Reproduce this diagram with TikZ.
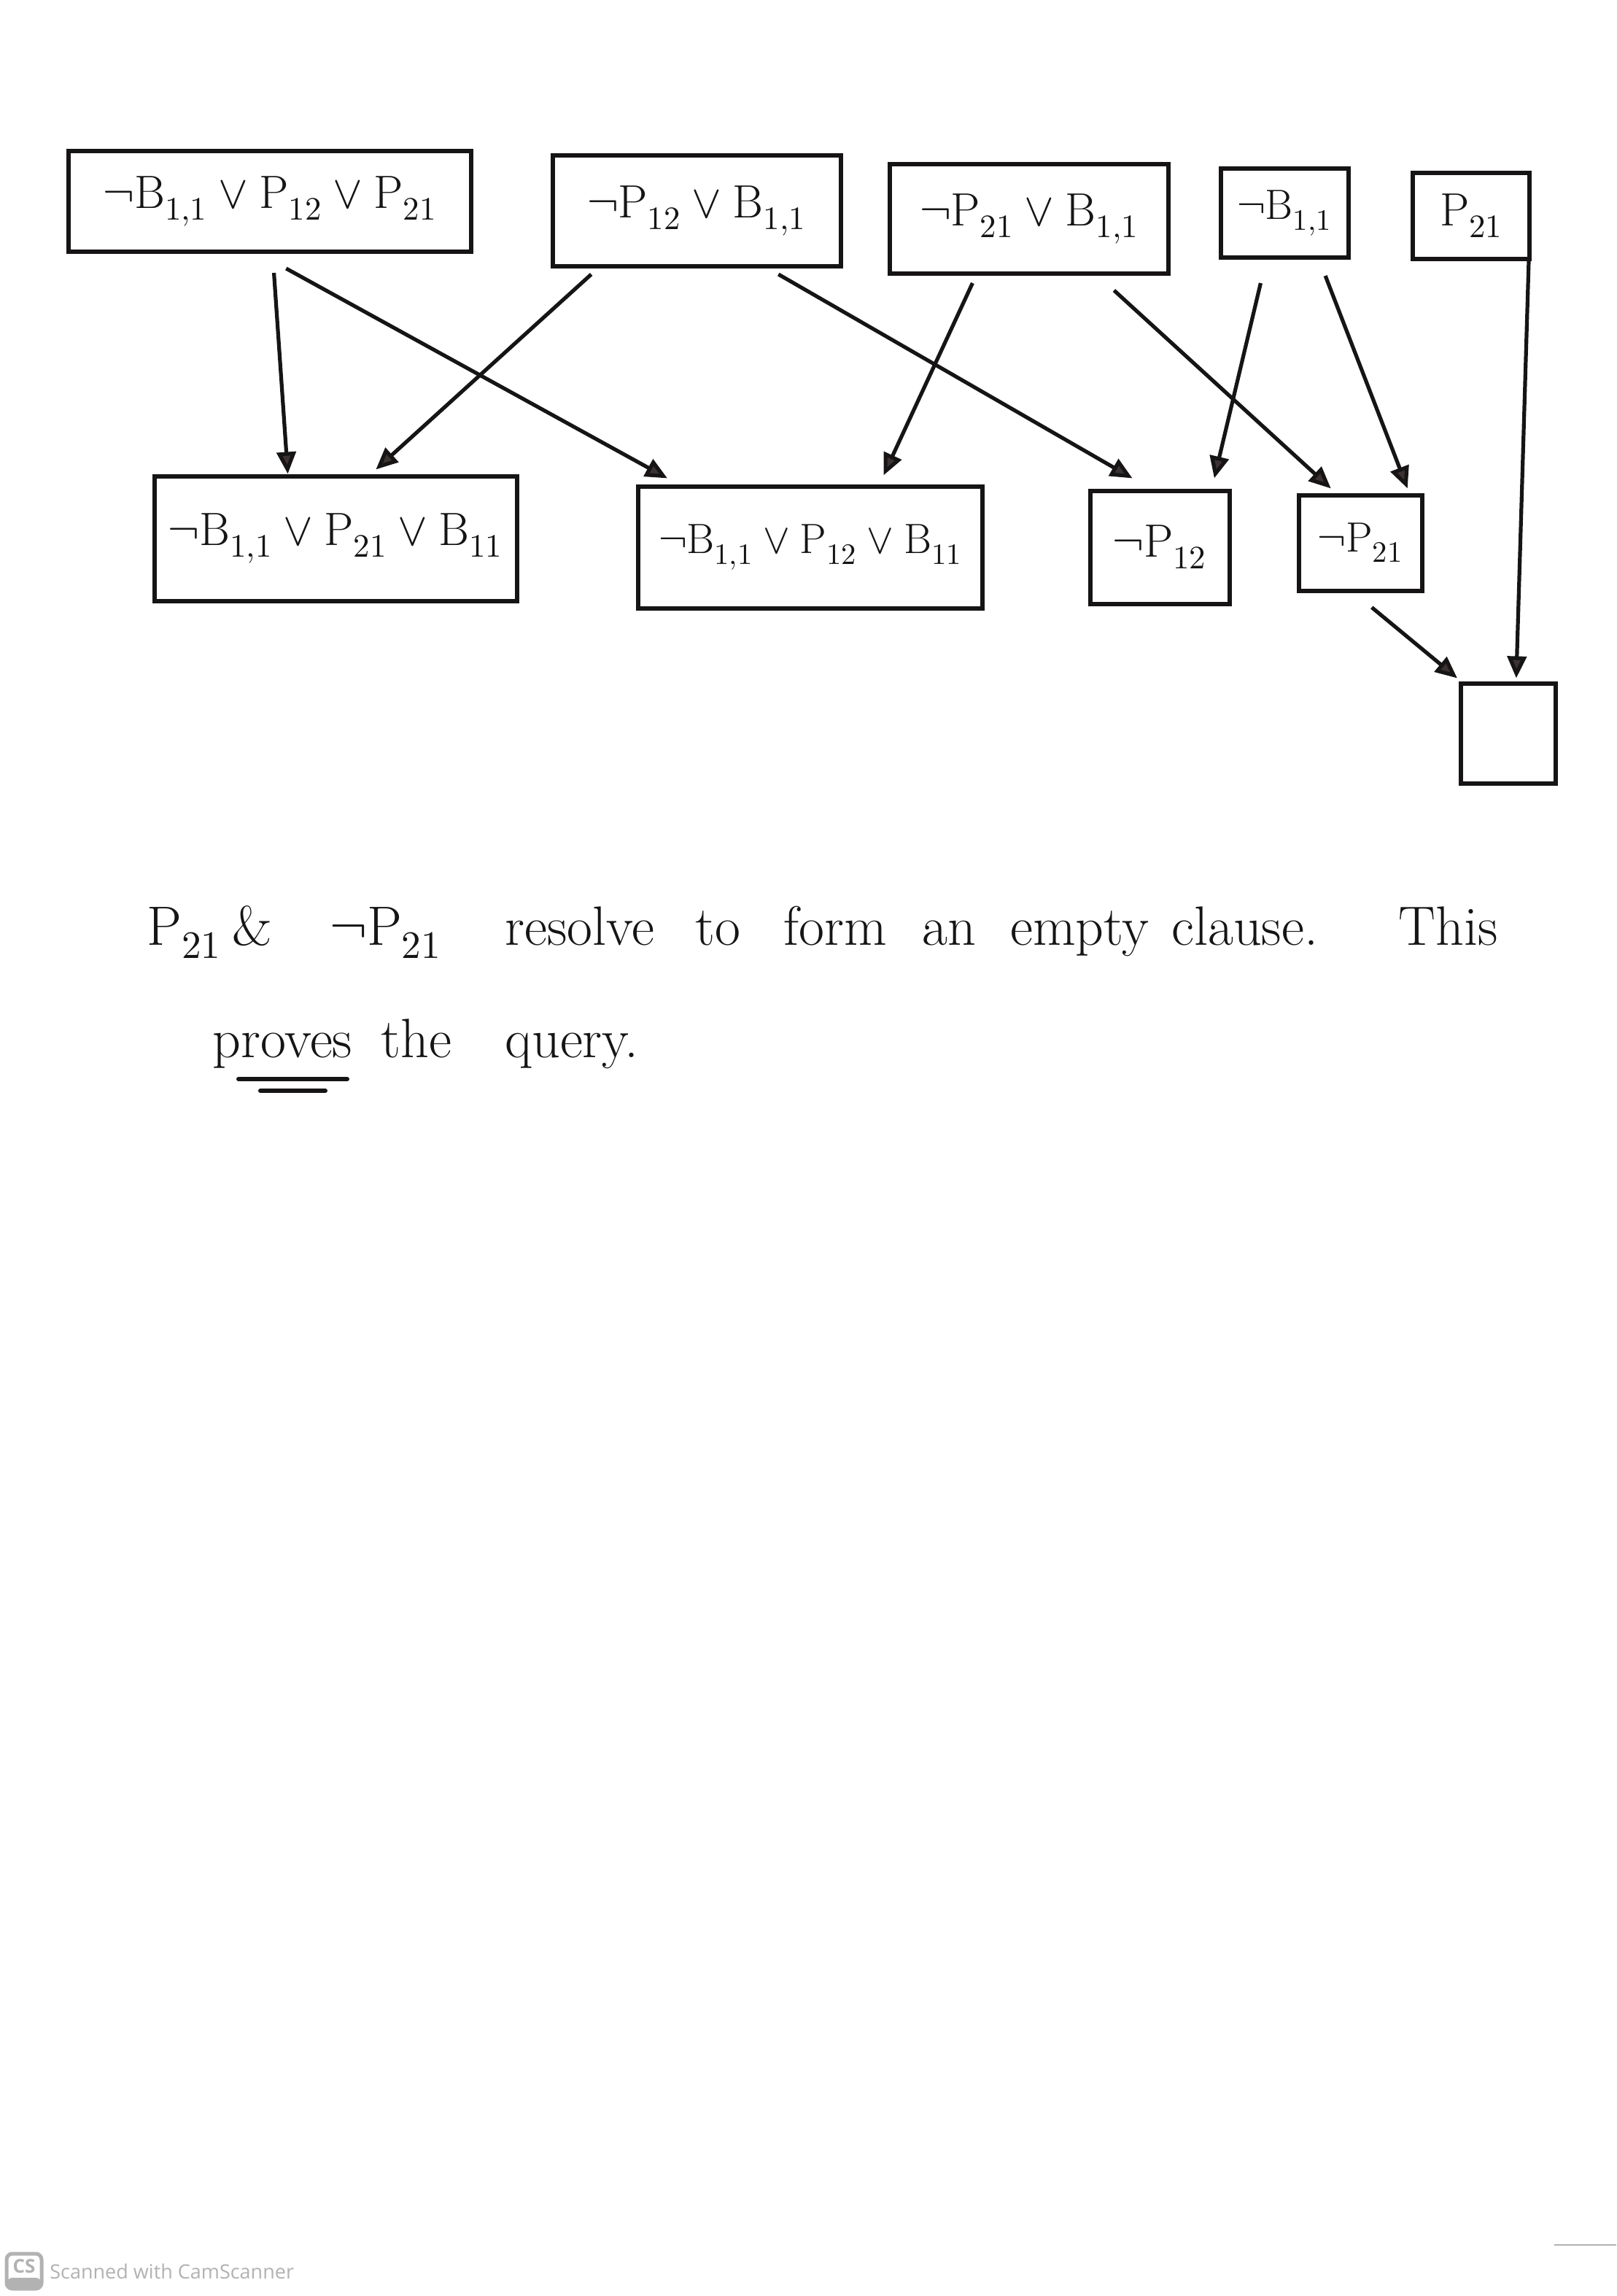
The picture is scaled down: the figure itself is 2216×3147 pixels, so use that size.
\documentclass[tikz,border=0pt]{standalone}
\usepackage{fontspec}
\usepackage{unicode-math}
\setmathfont{Latin Modern Math}
\newfontfamily\footfont{Open Sans}
\usetikzlibrary{arrows.meta,calc}
\definecolor{ink}{RGB}{22,20,20}
\definecolor{headink}{RGB}{60,50,50}
\definecolor{csgray}{RGB}{178,178,178}
\begin{document}
\begin{tikzpicture}[x=0.5pt,y=-0.5pt,
  clause/.style={draw=ink, line width=3pt, inner sep=0pt, text=ink,
    font=\fontsize{32}{38}\selectfont},
  small/.style={font=\fontsize{29}{35}\selectfont},
  res/.style={draw=ink, line width=2.6pt,
    -{Triangle[length=15pt,width=13pt,fill=headink]}},
  hand/.style={font=\fontsize{38}{46}\selectfont, anchor=base west,
    inner sep=0pt, text=ink}]
\fill[white] (0,0) rectangle (2216,3147);
\useasboundingbox (0,0) rectangle (2216,3147);

% top row
\node[clause, minimum width=276pt, minimum height=69pt] (A1) at (370,276)
  {$\neg\mathrm{B}_{1,1}\vee\mathrm{P}_{12}\vee\mathrm{P}_{21}$};
\node[clause, minimum width=197.5pt, minimum height=76pt] (A2) at (955,289)
  {$\neg\mathrm{P}_{12}\vee\mathrm{B}_{1,1}$};
\node[clause, minimum width=191pt, minimum height=75pt] (A3) at (1411,300)
  {$\neg\mathrm{P}_{21}\vee\mathrm{B}_{1,1}$};
\node[clause, small, minimum width=87.5pt, minimum height=61pt] (A4) at (1761,292)
  {$\neg\mathrm{B}_{1,1}$};
\node[clause, minimum width=80pt, minimum height=59pt] (A5) at (2017,296)
  {$\mathrm{P}_{21}$};

% second row
\node[clause, minimum width=248.5pt, minimum height=85.5pt] (B1) at (460,738)
  {$\neg\mathrm{B}_{1,1}\vee\mathrm{P}_{21}\vee\mathrm{B}_{11}$};
\node[clause, small, minimum width=236pt, minimum height=83.5pt] (B2) at (1111,750)
  {$\neg\mathrm{B}_{1,1}\vee\mathrm{P}_{12}\vee\mathrm{B}_{11}$};
\node[clause, minimum width=95.5pt, minimum height=77.5pt] (B3) at (1590,750)
  {$\neg\mathrm{P}_{12}$};
\node[clause, small, minimum width=84.5pt, minimum height=65.5pt] (B4) at (1865,744)
  {$\neg\mathrm{P}_{21}$};

% empty clause
\node[clause, minimum width=65pt, minimum height=68.5pt] (E) at (2068,1005) {};

% resolution arrows
\draw[res] ($(A1.south west)!0.51!(A1.south east)+(0,26)$) -- ($(B1.north west)!0.37!(B1.north east)$);
\draw[res] ($(A2.south west)!0.14!(A2.south east)+(0,8)$) -- ($(B1.north west)!0.61!(B1.north east)+(0,-6)$);
\draw[res] ($(A1.south west)!0.54!(A1.south east)+(0,20)$) -- ($(B2.north west)!0.09!(B2.north east)+(0,-8)$);
\draw[res] ($(A2.south west)!0.78!(A2.south east)+(0,8)$) -- ($(B3.north west)!0.31!(B3.north east)+(0,-14)$);
\draw[res] ($(A3.south west)!0.30!(A3.south east)+(0,10)$) -- ($(B2.north west)!0.71!(B2.north east)+(0,-12)$);
\draw[res] ($(A3.south west)!0.80!(A3.south east)+(0,20)$) -- ($(B4.north west)!0.27!(B4.north east)+(0,-6)$);
\draw[res] ($(A4.south west)!0.32!(A4.south east)+(0,32)$) -- ($(B3.north west)!0.88!(B3.north east)+(0,-14)$);
\draw[res] ($(A4.south west)!0.81!(A4.south east)+(0,22)$) -- ($(B4.north west)!0.87!(B4.north east)+(0,-6)$);
\draw[res] ($(A5.south east)+(-4,0)$) -- ($(E.north west)!0.58!(E.north east)+(0,-4)$);
\draw[res] ($(B4.south west)!0.59!(B4.south east)+(0,20)$) -- ($(E.north west)+(-2,-4)$);

% explanation text
\node[hand] (t1) at (201,1295) {$\mathrm{P}_{21}$};
\node[hand] (t2) at (318,1295) {\&};
\node[hand] (t3) at (452,1295) {$\neg\mathrm{P}_{21}$};
\node[hand] (t4) at (692,1295) {resolve};
\node[hand] (t5) at (953,1295) {to};
\node[hand] (t6) at (1074,1295) {form};
\node[hand] (t7) at (1264,1295) {an};
\node[hand] (t8) at (1385,1295) {empty};
\node[hand] (t9) at (1606,1295) {clause.};
\node[hand] (t10) at (1917,1295) {This};
\node[hand] (u1) at (291,1449) {proves};
\node[hand] (u2) at (522,1449) {the};
\node[hand] (u3) at (692,1449) {query.};
\draw[ink, line width=3pt, line cap=round] ($(u1.base west)+(36,30)$) -- ($(u1.base west)+(185,30)$);
\draw[ink, line width=3pt, line cap=round] ($(u1.base west)+(66,46)$) -- ($(u1.base west)+(155,46)$);

% scanner footer
\draw[csgray, line width=2.5pt, rounded corners=4pt] (9,3089) rectangle (57,3137);
\fill[csgray, rounded corners=4pt] (9,3122) rectangle (57,3137);
\node[csgray, font=\footfont\bfseries\fontsize{13}{15}\selectfont, inner sep=0pt] (cs) at (33,3106) {CS};
\node[csgray, font=\footfont\fontsize{13.5}{16}\selectfont, anchor=base west, inner sep=0pt] (scan) at (68,3123) {Scanned with CamScanner};
\draw[csgray, line width=1pt] (2131,3077) -- (2216,3077);
\end{tikzpicture}
\end{document}
